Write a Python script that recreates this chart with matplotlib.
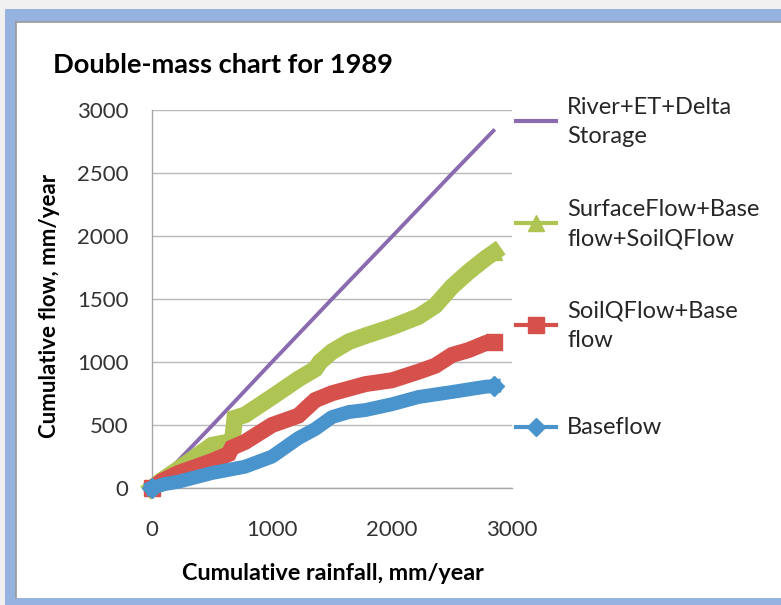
import matplotlib
matplotlib.use("Agg")
import matplotlib.pyplot as plt
from matplotlib.patches import Rectangle

plt.rcParams['font.family'] = ['Lato', 'DejaVu Sans']

# ---- data ----
rain_total = [0, 500, 1000, 1500, 2000, 2500, 2845]
river_et_delta = [0, 495, 1000, 1500, 1995, 2495, 2835]

rain_surface = [0, 80, 220, 500, 640, 670, 690, 775, 1000, 1220, 1360, 1400, 1500,
                1640, 1780, 2000, 2220, 2360, 2500, 2640, 2780, 2850]
surface_base_soil = [0, 60, 150, 340, 365, 380, 555, 580, 722, 865, 944, 1000, 1082,
                     1161, 1209, 1278, 1360, 1447, 1598, 1717, 1823, 1870]

rain_soil = [0, 80, 220, 500, 640, 665, 775, 1000, 1220, 1360, 1500, 1780, 2000,
             2220, 2360, 2500, 2640, 2780, 2850]
soil_base = [0, 55, 119, 214, 270, 320, 365, 500, 574, 698, 752, 825, 855,
             923, 970, 1056, 1095, 1150, 1160]

rain_base = [0, 100, 220, 500, 775, 1000, 1220, 1360, 1500, 1640, 1780, 2000,
             2220, 2500, 2780, 2850]
baseflow = [0, 30, 50, 119, 169, 249, 396, 468, 563, 603, 619, 665,
            722, 762, 804, 809]

series_labels = ["River+ET+Delta\nStorage", "SurfaceFlow+Base\nflow+SoilQFlow",
                 "SoilQFlow+Base\nflow", "Baseflow"]
x_ticks = [0, 1000, 2000, 3000]
y_ticks = [0, 500, 1000, 1500, 2000, 2500, 3000]

title = "Double-mass chart for 1989"
xlabel = "Cumulative rainfall, mm/year"
ylabel = "Cumulative flow, mm/year"

PURPLE = '#8A6BB0'
GREEN = '#AFC553'
RED = '#D6504C'
BLUE = '#4A94CD'

W, H = 781, 605
fig = plt.figure(figsize=(W / 100, H / 100), dpi=100)
fig.patch.set_facecolor('white')

def fx(px):
    return px / W

def fy(py):
    return 1 - py / H

# main axes
x0, x1, y0, y1 = 152, 512, 488, 110
ax = fig.add_axes([fx(x0), fy(y0), fx(x1) - fx(x0), fy(y1) - fy(y0)])
ax.set_xlim(0, 3000)
ax.set_ylim(0, 3000)
ax.set_xticks(x_ticks)
ax.set_yticks(y_ticks)
ax.tick_params(axis='both', length=0, labelsize=16, colors='#404040')
ax.tick_params(axis='x', pad=23)
ax.tick_params(axis='y', pad=17)
for lab in ax.get_xticklabels() + ax.get_yticklabels():
    lab.set_color('#333333')
ax.grid(axis='y', color='#B8B8B8', linewidth=1.0)
ax.set_axisbelow(True)
for s in ['top', 'right']:
    ax.spines[s].set_visible(False)
for s in ['left', 'bottom']:
    ax.spines[s].set_color('#A6A6A6')
    ax.spines[s].set_linewidth(1.0)

ax.plot(rain_total, river_et_delta, color=PURPLE, lw=2.8, zorder=3, clip_on=False)
ax.plot(rain_surface, surface_base_soil, color=GREEN, lw=12, marker='^', ms=11,
        markevery=[-1], solid_joinstyle='miter', zorder=4, clip_on=False)
ax.plot(rain_soil, soil_base, color=RED, lw=11.5, marker='s', ms=11,
        markevery=[0, -1], solid_joinstyle='miter', solid_capstyle='butt', zorder=5, clip_on=False)
ax.plot(rain_base, baseflow, color=BLUE, lw=10, marker='D', ms=10,
        markevery=[0, -1], solid_joinstyle='round', zorder=6, clip_on=False)

# overlay in pixel coordinates for frame + legend
ov = fig.add_axes([0, 0, 1, 1], zorder=10)
ov.set_xlim(0, W)
ov.set_ylim(H, 0)
ov.axis('off')
ov.patch.set_alpha(0)
ov.add_patch(Rectangle((0, 0), W, 9, color='#F0F0F0', lw=0))
ov.add_patch(Rectangle((0, 0), 5, H, color='#F0F0F0', lw=0))
ov.add_patch(Rectangle((5, 9), W - 5, 12.5, color='#95B3DE', lw=0))
ov.add_patch(Rectangle((5, 9), 10.5, H - 9, color='#95B3DE', lw=0))
ov.add_patch(Rectangle((5, 598), W - 5, 7, color='#95B3DE', lw=0))
ov.plot([16, W], [22, 22], color='#9A9A9A', lw=1.2)
ov.plot([16, 16], [22, 598], color='#9A9A9A', lw=1.2)

# legend
leg_y = [121, 223, 325, 427]
colors = [PURPLE, GREEN, RED, BLUE]
markers = [None, '^', 's', 'D']
msizes = [0, 11, 11, 9]
for yy, c, m, ms, lab in zip(leg_y, colors, markers, msizes, series_labels):
    ov.plot([516, 556], [yy, yy], color=c, lw=3)
    if m:
        ov.plot([536], [yy], marker=m, color=c, ms=ms, lw=0)
    ov.text(567, yy + 1, lab, fontsize=17, color='#262626', va='center', ha='left',
            linespacing=1.5)

fig.text(fx(53), fy(65), title, fontsize=19.6, fontweight='bold', color='black',
         ha='left', va='center')
fig.text(fx(333), fy(573), xlabel, fontsize=16.8, fontweight='bold', color='black',
         ha='center', va='center')
fig.text(fx(50), fy(306), ylabel, fontsize=16, fontweight='bold', color='black',
         ha='center', va='center', rotation=90)

fig.savefig('out.png', dpi=100)
